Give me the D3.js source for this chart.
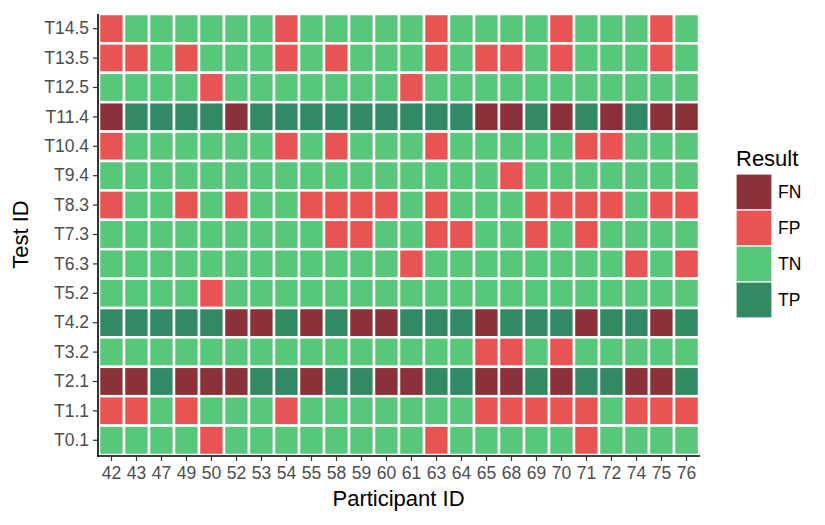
<!DOCTYPE html>
<html>
<head>
<meta charset="utf-8">
<script src="https://d3js.org/d3.v7.min.js"></script>
<style>
  body { margin: 0; background: #fff; }
  text { font-family: "Liberation Sans", Arial, sans-serif; }
</style>
</head>
<body>
<div class="heatmap"></div>
<script>

// participants on the x axis
const participants = ["42","43","47","49","50","52","53","54","55","58","59","60",
  "61","63","64","65","68","69","70","71","72","74","75","76"]

// tests, top row first
const tests = ["T14.5","T13.5","T12.5","T11.4","T10.4","T9.4","T8.3","T7.3",
  "T6.3","T5.2","T4.2","T3.2","T2.1","T1.1","T0.1"]

// one string per test, one letter per participant
// F = FN, P = FP, N = TN, T = TP
const rows = [
  "PNNNNNNPNNNNNPNNNNPNNNPN", // T14.5
  "PPNPNNNPNPNNNPNPPNPNNNPN", // T13.5
  "NNNNPNNNNNNNPNNNNNNNNNNN", // T12.5
  "FTTTTFTTTTTTTTTFFTFTFTFF", // T11.4
  "PNNNNNNPNPNNNPNNNNNPPNNN", // T10.4
  "NNNNNNNNNNNNNNNNPNNNNNNN", // T9.4
  "PNNPNPNNPPPPNPNNNPPPPNPP", // T8.3
  "NNNNNNNNNPPNNPPNNPNPNNNN", // T7.3
  "NNNNNNNNNNNNPNNNNNNNNPNP", // T6.3
  "NNNNPNNNNNNNNNNNNNNNNNNN", // T5.2
  "TTTTTFFTFTFFTTTFTTTFTTFT", // T4.2
  "NNNNNNNNNNNNNNNPPNPNNNNN", // T3.2
  "FFTFFFTTFTTFFTTFFTFTTFFT", // T2.1
  "PPNPNNNPNNNNNNNPPPPPNPPP", // T1.1
  "NNNNPNNNNNNNNPNNNNNPNNNN"  // T0.1
]

const resultCodes = {F: "FN", P: "FP", N: "TN", T: "TP"}
const resultLabels = ["FN", "FP", "TN", "TP"]
const resultColors = ["#8a3139", "#e85353", "#57c77a", "#318a63"]

var cells = []
rows.forEach(function(r, i) {
  r.split("").forEach(function(c, j) {
    cells.push({test: tests[i], participant: participants[j], result: resultCodes[c]})
  })
})

var width = 825, height = 525
var margin = {top: 14, right: 126, bottom: 70, left: 98}

var svg = d3.select(".heatmap")
  .append("svg")
  .attr("width", width)
  .attr("height", height)

var x = d3.scaleBand()
  .domain(participants)
  .range([margin.left + 1, width - margin.right])

var y = d3.scaleBand()
  .domain(tests)
  .range([margin.top, height - margin.bottom])

var color = d3.scaleOrdinal()
  .domain(resultLabels)
  .range(resultColors)

// tiles
svg.selectAll("rect.tile")
  .data(cells)
  .enter()
  .append("rect")
    .attr("class", "tile")
    .attr("x", function(d) { return x(d.participant) })
    .attr("y", function(d) { return y(d.test) })
    .attr("width", x.bandwidth())
    .attr("height", y.bandwidth())
    .style("fill", function(d) { return color(d.result) })
    .attr("stroke", "white")
    .attr("stroke-width", 2.5)

// axes
var xAxis = svg.append("g")
  .attr("transform", "translate(0," + (height - margin.bottom + 1) + ")")
  .call(d3.axisBottom(x).tickSize(5).tickPadding(6).tickSizeOuter(0))

var yAxis = svg.append("g")
  .attr("transform", "translate(" + margin.left + ",0)")
  .call(d3.axisLeft(y).tickSize(5).tickPadding(4).tickSizeOuter(0))

;[xAxis, yAxis].forEach(function(a) {
  a.select(".domain").attr("stroke", "black").attr("stroke-width", 1.6)
  a.selectAll(".tick line").attr("stroke", "#333").attr("stroke-width", 1.2)
  a.selectAll(".tick text")
    .style("font-size", "17.5px")
    .style("font-family", "Liberation Sans, Arial, sans-serif")
    .attr("fill", "#4d4d4d")
})
xAxis.select(".domain").attr("d", "M" + (margin.left - 0.8) + ",0H" + (width - margin.right + 1))
yAxis.select(".domain").attr("d", "M0," + margin.top + "V" + (height - margin.bottom + 1.8))

// axis titles
svg.append("text")
  .attr("x", (margin.left + width - margin.right) / 2)
  .attr("y", 506)
  .attr("text-anchor", "middle")
  .style("font-size", "22px")
  .text("Participant ID")

svg.append("text")
  .attr("transform", "translate(28," + (margin.top + height - margin.bottom) / 2 + ") rotate(-90)")
  .attr("text-anchor", "middle")
  .style("font-size", "22px")
  .text("Test ID")

// legend
var legend = svg.append("g")
  .attr("transform", "translate(736,174)")

legend.append("text")
  .attr("x", 0)
  .attr("y", -8)
  .style("font-size", "22px")
  .text("Result")

var keySize = 36
legend.selectAll("rect")
  .data(resultLabels)
  .enter()
  .append("rect")
    .attr("x", 0)
    .attr("y", function(d, i) { return i * keySize })
    .attr("width", 36)
    .attr("height", keySize)
    .style("fill", function(d) { return color(d) })
    .attr("stroke", "white")
    .attr("stroke-width", 1.2)

legend.selectAll("text.key")
  .data(resultLabels)
  .enter()
  .append("text")
    .attr("class", "key")
    .attr("x", 42)
    .attr("y", function(d, i) { return i * keySize + keySize / 2 })
    .attr("dy", "0.36em")
    .style("font-size", "17.5px")
    .text(function(d) { return d })

</script>
</body>
</html>
